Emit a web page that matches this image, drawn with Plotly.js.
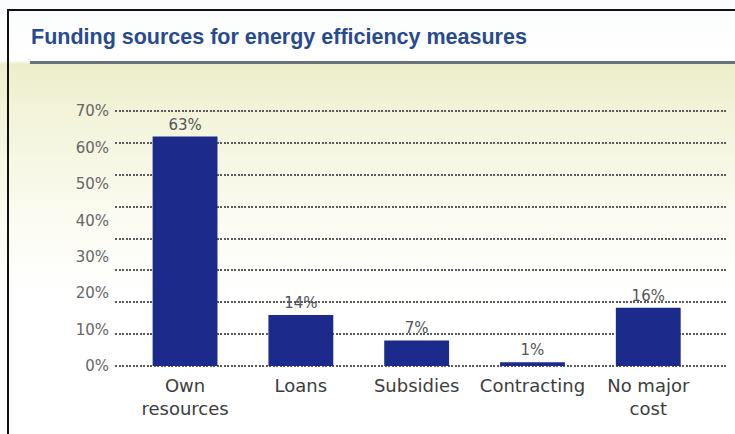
<!DOCTYPE html>
<html>
<head>
<meta charset="utf-8">
<script src="https://cdn.plot.ly/plotly-3.0.1.min.js"></script>
<style>
  html, body { margin: 0; padding: 0; background: #ffffff; }
  #wrap { position: relative; width: 735px; height: 434px; overflow: hidden;
    background: linear-gradient(to bottom, #fbfcfd 0px, #ffffff 60px, #eceecb 64px, #f3f4db 120px, #fcfcf4 230px, #ffffff 300px); }
  #frameTop { position: absolute; left: 7px; top: 9px; right: 0; height: 2px; background: #111; }
  #frameLeft { position: absolute; left: 7px; top: 9px; bottom: 0; width: 2px; background: #111; }
  #rule { position: absolute; left: 30px; top: 61px; right: 0; height: 3px; background: #6b7178; }
  #chart { position: absolute; left: 0; top: 0; width: 735px; height: 434px; }
</style>
</head>
<body>
<div id="wrap">
  <div id="frameTop"></div>
  <div id="frameLeft"></div>
  <div id="rule"></div>
  <div id="chart"></div>
</div>
<script>
// ---- data ----
const categories = ["Own<br>resources", "Loans", "Subsidies", "Contracting", "No major<br>cost"];
const shares = [63, 14, 7, 1, 16];
const yTickValues = [0, 10, 20, 30, 40, 50, 60, 70];
const yTickLabels = ["0%", "10%", "20%", "30%", "40%", "50%", "60%", "70%"];
const chartTitle = "Funding sources for energy efficiency measures";

const bars = {
  type: "bar",
  x: categories,
  y: shares,
  width: 0.56,
  marker: { color: "#1c2a8c" },
  text: shares.map(v => v + "%"),
  textposition: "outside",
  textfont: { family: "DejaVu Sans", size: 15, color: "#555555" },
  cliponaxis: false,
  hoverinfo: "skip"
};

// invisible trace carrying the y tick labels axis
const labelAxisTrace = {
  type: "scatter", x: [categories[0]], y: [0], yaxis: "y2",
  mode: "markers", marker: { opacity: 0 }, hoverinfo: "skip", showlegend: false
};

const yRange = [-0.3, 70.3];

const layout = {
  width: 735, height: 434, autosize: false,
  margin: { l: 115, r: 8, t: 110, b: 67, pad: 0 },
  paper_bgcolor: "rgba(0,0,0,0)",
  plot_bgcolor: "rgba(0,0,0,0)",
  showlegend: false,
  title: {
    text: chartTitle,
    x: 31 / 735, xref: "container", xanchor: "left",
    y: 1 - 36 / 434, yref: "container", yanchor: "middle",
    font: { family: "Liberation Sans", size: 21.5, color: "#284a8e", weight: "bold" }
  },
  xaxis: {
    type: "category",
    range: [-0.605, 4.68],
    showgrid: false, zeroline: false, showline: false, ticks: "",
    tickfont: { family: "DejaVu Sans", size: 18, color: "#3d3d3d" },
    ticklabelstandoff: 6
  },
  yaxis: {
    range: yRange,
    tick0: 0, dtick: 8.75,
    showticklabels: false,
    showgrid: true, gridcolor: "#5a5a5a", gridwidth: 2, griddash: "2px,1.5px",
    zeroline: false, showline: false, ticks: "", fixedrange: true
  },
  yaxis2: {
    overlaying: "y", side: "left",
    range: yRange,
    tickmode: "array", tickvals: yTickValues, ticktext: yTickLabels,
    showgrid: false, zeroline: false, showline: false, ticks: "",
    tickfont: { family: "DejaVu Sans", size: 15, color: "#666666" },
    ticklabelstandoff: 5
  }
};

Plotly.newPlot("chart", [bars, labelAxisTrace], layout, { displayModeBar: false, staticPlot: true });
</script>
</body>
</html>
